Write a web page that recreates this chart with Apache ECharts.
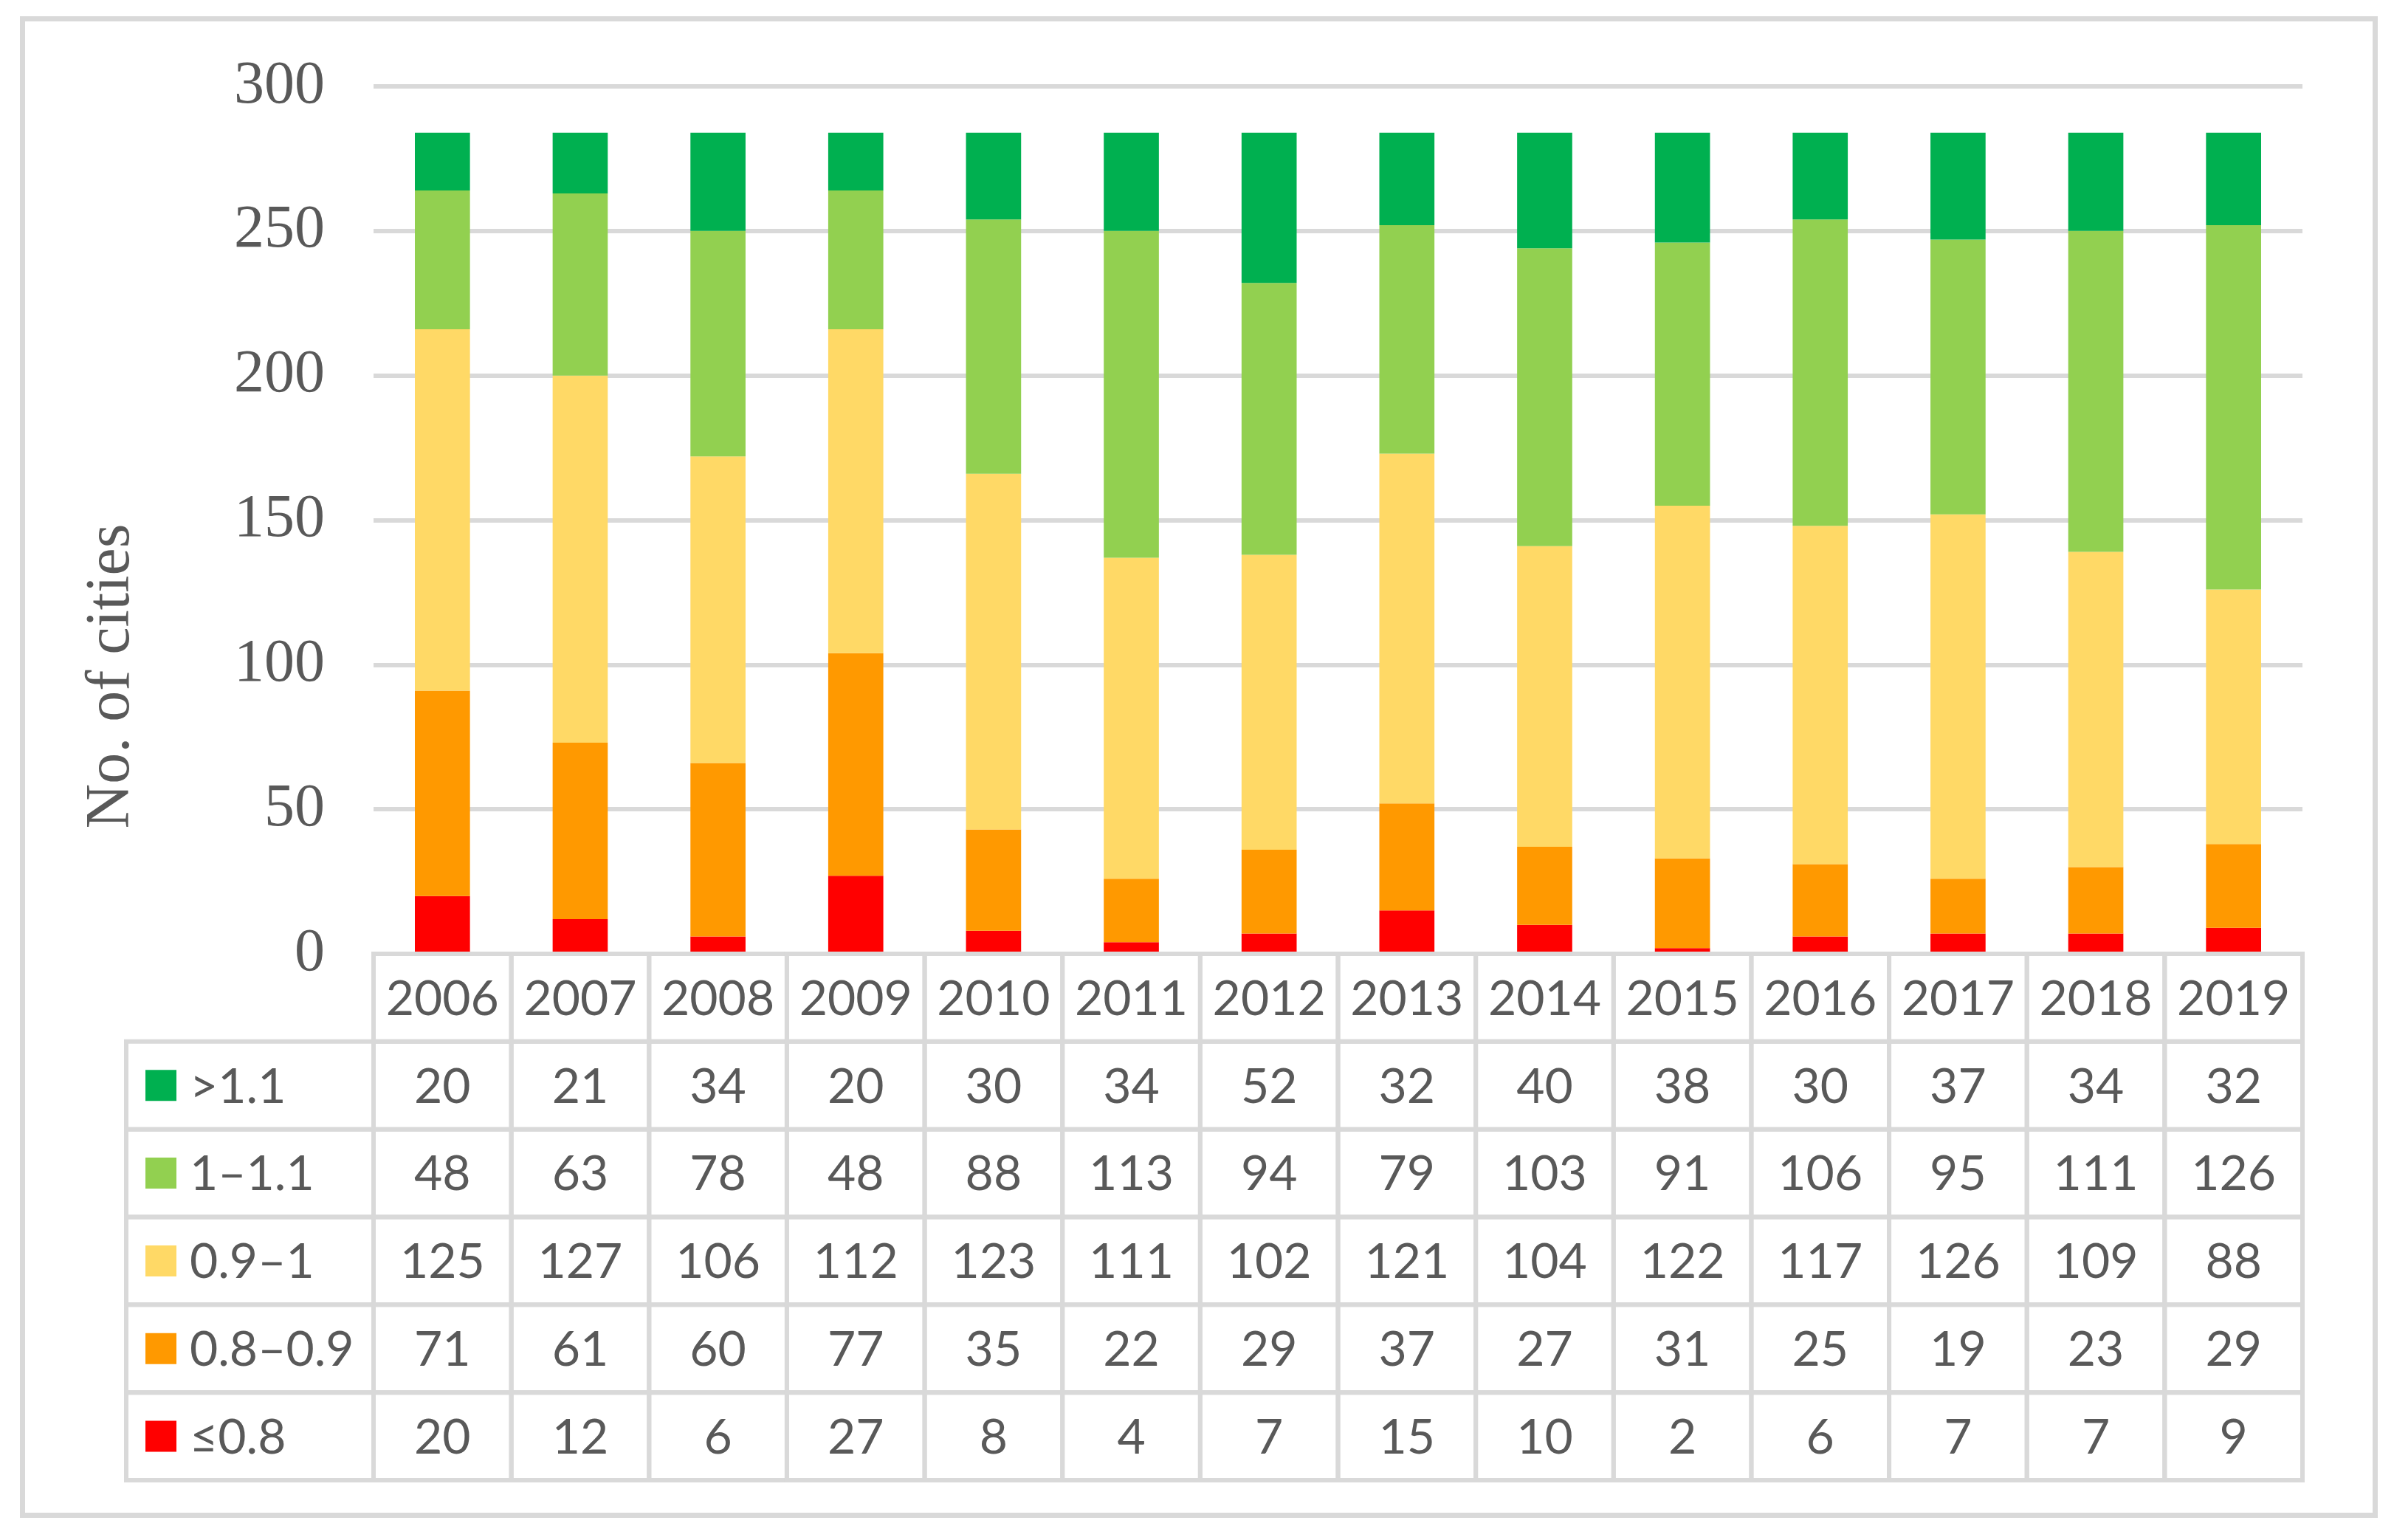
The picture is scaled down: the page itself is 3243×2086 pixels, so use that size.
<!DOCTYPE html>
<html>
<head>
<meta charset="utf-8">
<script src="https://cdn.jsdelivr.net/npm/echarts@6/dist/echarts.min.js"></script>
<style>
html,body{margin:0;padding:0;background:#fff;}
#chart{width:3243px;height:2086px;}
</style>
</head>
<body>
<div id="chart"></div>
<script>
// ---- data ----
const years = ['2006','2007','2008','2009','2010','2011','2012','2013','2014','2015','2016','2017','2018','2019'];
const seriesNames = ['>1.1','1–1.1','0.9–1','0.8–0.9','≤0.8'];
const gt11   = [20,21,34,20,30,34,52,32,40,38,30,37,34,32];
const r1to11 = [48,63,78,48,88,113,94,79,103,91,106,95,111,126];
const r09to1 = [125,127,106,112,123,111,102,121,104,122,117,126,109,88];
const r08to09 = [71,61,60,77,35,22,29,37,27,31,25,19,23,29];
const le08   = [20,12,6,27,8,4,7,15,10,2,6,7,7,9];
const yMin = 0, yMax = 300, yStep = 50;
const yTitle = 'No. of cities';
const colors = ['#00B050','#92D050','#FFD966','#FF9900','#FF0000'];

const rowsData = [gt11, r1to11, r09to1, r08to09, le08];

// ---- layout / style ----
const W = 3243, H = 2086;
const gridLeft = 506, gridRight = W - 3119, gridTop = 117, zeroY = 1292;
const tableLeft = 171, tableBottomY = 2005;
const colW = (W - gridRight - gridLeft) / years.length;
const legendColW = (gridLeft - tableLeft) / colW;
const lineCol = '#D9D9D9';
const textCol = '#595959';
const tableFont = 'Lato, "Open Sans", sans-serif';
const serifFont = '"Liberation Serif", "DejaVu Serif", serif';

// table cells built from the data arrays
const cells = [];
years.forEach((y, i) => cells.push({v: [i, 0, i + 1, 1], text: y}));
rowsData.forEach((arr, r) => {
  cells.push({v: [-legendColW, r + 1, 0, r + 2], text: seriesNames[r], key: colors[r]});
  arr.forEach((val, i) => cells.push({v: [i, r + 1, i + 1, r + 2], text: String(val)}));
});

// bar series: bottom of stack first
const barSeries = [];
for (let k = rowsData.length - 1; k >= 0; k--) {
  barSeries.push({
    name: seriesNames[k],
    type: 'bar',
    stack: 'total',
    xAxisIndex: 0, yAxisIndex: 0,
    barWidth: colW * 0.4,
    itemStyle: {color: colors[k]},
    emphasis: {disabled: true},
    data: rowsData[k]
  });
}

const chart = echarts.init(document.getElementById('chart'), null, {renderer: 'canvas', width: W, height: H});
const option = {
  animation: false,
  backgroundColor: '#fff',
  color: colors,
  graphic: [
    {type: 'rect', left: 27, top: 22, z: -10,
     shape: {width: 3211 - 30 + 6, height: 2046 - 25 + 6},
     style: {fill: 'none', stroke: lineCol, lineWidth: 7}},
    {type: 'text', x: 152, y: 916, rotation: Math.PI / 2,
     style: {text: yTitle, font: '84px ' + serifFont, fill: textCol, align: 'center', verticalAlign: 'middle'}}
  ],
  grid: [
    {left: gridLeft, right: gridRight, top: gridTop, bottom: H - zeroY, containLabel: false},
    {left: tableLeft, right: gridRight, top: zeroY, bottom: H - tableBottomY, containLabel: false}
  ],
  xAxis: [
    {type: 'category', gridIndex: 0, data: years, boundaryGap: true,
     axisLine: {show: false}, axisTick: {show: false}, axisLabel: {show: false}},
    {type: 'value', gridIndex: 1, min: -legendColW, max: years.length, show: false}
  ],
  yAxis: [
    {type: 'value', gridIndex: 0, min: yMin, max: yMax, interval: yStep,
     axisLine: {show: false}, axisTick: {show: false},
     axisLabel: {fontFamily: serifFont, fontSize: 82, color: textCol, margin: 66},
     splitLine: {lineStyle: {color: lineCol, width: 6}}},
    {type: 'value', gridIndex: 1, min: 0, max: rowsData.length + 1, inverse: true, show: false}
  ],
  series: barSeries.concat([{
    type: 'custom',
    name: 'table',
    xAxisIndex: 1, yAxisIndex: 1,
    silent: true,
    z: 5,
    encode: {x: [0, 2], y: [1, 3]},
    data: cells.map(c => c.v),
    renderItem: function (params, api) {
      const p0 = api.coord([api.value(0), api.value(1)]);
      const p1 = api.coord([api.value(2), api.value(3)]);
      const cell = cells[params.dataIndex];
      const cy = (p0[1] + p1[1]) / 2;
      const children = [
        {type: 'rect', shape: {x: p0[0], y: p0[1], width: p1[0] - p0[0], height: p1[1] - p0[1]},
         style: {fill: 'none', stroke: lineCol, lineWidth: 6}}
      ];
      if (cell.key) {
        children.push({type: 'rect', shape: {x: p0[0] + 26, y: cy - 21, width: 42, height: 42},
          style: {fill: cell.key}});
        children.push({type: 'text', style: {x: p0[0] + 86, y: cy + 2, text: cell.text,
          align: 'left', verticalAlign: 'middle', fill: textCol, font: '66px ' + tableFont}});
      } else {
        children.push({type: 'text', style: {x: (p0[0] + p1[0]) / 2, y: cy + 2, text: cell.text,
          align: 'center', verticalAlign: 'middle', fill: textCol, font: '66px ' + tableFont}});
      }
      return {type: 'group', children: children};
    }
  }])
};
chart.setOption(option);
</script>
</body>
</html>
